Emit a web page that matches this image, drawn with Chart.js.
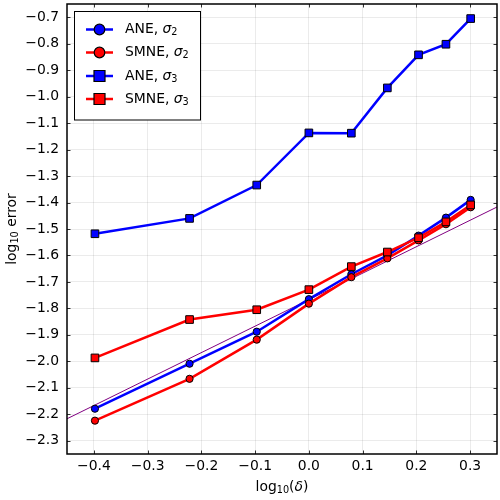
<!DOCTYPE html>
<html><head><meta charset="utf-8">
<script src="https://cdn.jsdelivr.net/npm/chart.js@4"></script>
<style>html,body{margin:0;padding:0;background:#fff}#w{width:500px;height:500px}</style>
</head><body><div id="w"><canvas id="c" width="500" height="500"></canvas></div>
<script>
// ---- data ----
const xVals  = [-0.398, -0.222, -0.097, 0.000, 0.079, 0.146, 0.204, 0.255, 0.301];
const aneS2  = [-2.179, -2.009, -1.888, -1.765, -1.671, -1.600, -1.525, -1.457, -1.390];
const smneS2 = [-2.224, -2.066, -1.918, -1.782, -1.682, -1.611, -1.543, -1.482, -1.418];
const aneS3  = [-1.518, -1.460, -1.334, -1.137, -1.138, -0.967, -0.842, -0.802, -0.705];
const smneS3 = [-1.987, -1.842, -1.805, -1.729, -1.642, -1.587, -1.533, -1.473, -1.409];
const refX   = [-0.45, 0.35];
const refY   = [-2.217, -1.417];
const xTicks = [-0.4, -0.3, -0.2, -0.1, 0.0, 0.1, 0.2, 0.3];
const yTicks = [-2.3, -2.2, -2.1, -2.0, -1.9, -1.8, -1.7, -1.6, -1.5, -1.4, -1.3, -1.2, -1.1, -1.0, -0.9, -0.8, -0.7];
const seriesNames = ['ANE', 'SMNE', 'ANE', 'SMNE'];
const seriesSubs  = ['2', '2', '3', '3'];

const FONT = "'DejaVu Sans', sans-serif";
const FS = 13.9, FSUB = 9.7;
const BLUE = '#0000ff', RED = '#ff0000', PURPLE = '#800080';
const fmt = v => Math.abs(v) < 1e-9 ? '0.0' : v.toFixed(1).replace('-', '\u2212');
const pts = (xs, ys) => xs.map((x, i) => ({x, y: ys[i]}));

const styles = [
  {c: BLUE, p: 'circle'}, {c: RED, p: 'circle'}, {c: BLUE, p: 'rect'}, {c: RED, p: 'rect'}
];
const seriesData = [aneS2, smneS2, aneS3, smneS3];

function mkSeries(i) {
  const s = styles[i];
  return {
    data: pts(xVals, seriesData[i]),
    borderColor: s.c, backgroundColor: s.c,
    borderWidth: 2.5,
    pointStyle: s.p,
    pointRadius: s.p === 'circle' ? 3.6 : 5.4,
    pointBorderColor: '#000', pointBorderWidth: 1,
    pointBackgroundColor: s.c,
    tension: 0, fill: false,
    order: 4 - i
  };
}

// target plot area in the 500x500 picture
const AREA = {left: 67, top: 4, right: 497, bottom: 454};

// draw a run of text parts: [text, kind] where kind: 'n' normal, 'i' italic, 's' subscript
function drawRun(ctx, parts, cx, cy, rot) {
  const fontOf = k => k === 's' ? `${FSUB}px ${FONT}` : (k === 'i' ? `italic ${FS}px ${FONT}` : `${FS}px ${FONT}`);
  let total = 0;
  parts.forEach(([t, k]) => { ctx.font = fontOf(k); total += ctx.measureText(t).width; });
  ctx.save();
  ctx.translate(cx, cy);
  if (rot) ctx.rotate(rot);
  ctx.fillStyle = '#000'; ctx.textBaseline = 'middle'; ctx.textAlign = 'left';
  let x = -total / 2;
  parts.forEach(([t, k]) => {
    ctx.font = fontOf(k);
    ctx.fillText(t, x, k === 's' ? 3 : 0);
    x += ctx.measureText(t).width;
  });
  ctx.restore();
}

const frameTicks = {
  id: 'frameTicks',
  afterDatasetsDraw(chart) {
    const {ctx, chartArea: a, scales} = chart;
    ctx.save();
    ctx.strokeStyle = '#000';
    ctx.lineWidth = 0.8;
    const L = 3.5;
    ctx.beginPath();
    xTicks.forEach(v => {
      const px = Math.round(scales.x.getPixelForValue(v)) + 0.5;
      ctx.moveTo(px, a.bottom); ctx.lineTo(px, a.bottom - L);
      ctx.moveTo(px, a.top); ctx.lineTo(px, a.top + L);
    });
    yTicks.forEach(v => {
      const py = Math.round(scales.y.getPixelForValue(v)) + 0.5;
      ctx.moveTo(a.left, py); ctx.lineTo(a.left + L, py);
      ctx.moveTo(a.right, py); ctx.lineTo(a.right - L, py);
    });
    ctx.stroke();
    ctx.lineWidth = 1.5;
    ctx.strokeRect(a.left, a.top, a.right - a.left, a.bottom - a.top);

    // axis titles (mathtext-like subscripts)
    drawRun(ctx, [['log', 'n'], ['10', 's'], ['(', 'n'], ['\u03b4', 'i'], [')', 'n']], (a.left + a.right) / 2, 487, 0);
    drawRun(ctx, [['log', 'n'], ['10', 's'], [' error', 'n']], 12, (a.top + a.bottom) / 2, -Math.PI / 2);

    // legend
    const bx = 74.5, by = 11.5, bw = 126, bh = 108.5;
    ctx.fillStyle = '#fff';
    ctx.fillRect(bx, by, bw, bh);
    ctx.lineWidth = 1;
    ctx.strokeStyle = '#000';
    ctx.strokeRect(bx, by, bw, bh);
    const rows = [29.5, 52.5, 76, 99];
    rows.forEach((ry, i) => {
      const s = styles[i];
      ctx.strokeStyle = s.c; ctx.lineWidth = 2.5;
      ctx.beginPath(); ctx.moveTo(86, ry); ctx.lineTo(113, ry); ctx.stroke();
      ctx.fillStyle = s.c; ctx.strokeStyle = '#000'; ctx.lineWidth = 1.2;
      ctx.beginPath();
      if (s.p === 'circle') { ctx.arc(99.5, ry, 5.3, 0, Math.PI * 2); }
      else { ctx.rect(99.5 - 5.5, ry - 5.5, 11, 11); }
      ctx.fill(); ctx.stroke();
      let tx = 125;
      ctx.fillStyle = '#000'; ctx.textBaseline = 'middle'; ctx.textAlign = 'left';
      ctx.font = `${FS}px ${FONT}`;
      const t = seriesNames[i] + ', ';
      ctx.fillText(t, tx, ry);
      tx += ctx.measureText(t).width;
      ctx.font = `italic ${FS}px ${FONT}`;
      ctx.fillText('\u03c3', tx, ry);
      tx += ctx.measureText('\u03c3').width;
      ctx.font = `${FSUB}px ${FONT}`;
      ctx.fillText(seriesSubs[i], tx, ry + 3);
    });
    ctx.restore();
  }
};

// force the exact plot area after layout
const fixArea = {
  id: 'fixArea',
  afterLayout(chart) {
    const a = chart.chartArea;
    a.left = AREA.left; a.top = AREA.top; a.right = AREA.right; a.bottom = AREA.bottom;
    a.width = a.right - a.left; a.height = a.bottom - a.top;
    const x = chart.scales.x, y = chart.scales.y;
    x.left = AREA.left; x.right = AREA.right; x.width = AREA.right - AREA.left;
    x.top = AREA.bottom; x.bottom = 500; x.height = 500 - AREA.bottom;
    y.top = AREA.top; y.bottom = AREA.bottom; y.height = AREA.bottom - AREA.top;
    y.left = 0; y.right = AREA.left; y.width = AREA.left;
    x.configure(); y.configure();
  }
};

new Chart(document.getElementById('c'), {
  type: 'line',
  data: {
    datasets: [
      mkSeries(0), mkSeries(1), mkSeries(2), mkSeries(3),
      {data: pts(refX, refY), borderColor: PURPLE, borderWidth: 1, pointRadius: 0, tension: 0, fill: false, order: 10}
    ]
  },
  options: {
    responsive: false, animation: false, devicePixelRatio: 1,
    layout: {padding: {left: 0, top: 4, right: 3, bottom: 0}},
    plugins: {legend: {display: false}, tooltip: {enabled: false}},
    scales: {
      x: {
        type: 'linear', min: -0.45, max: 0.35,
        afterBuildTicks: s => { s.ticks = xTicks.map(v => ({value: v})); },
        afterFit: s => { s.height = 46; s.paddingLeft = 0; s.paddingRight = 0; },
        ticks: {callback: v => fmt(v), font: {family: FONT, size: FS}, color: '#000', padding: 4, maxRotation: 0, autoSkip: false},
        grid: {color: 'rgba(0,0,0,0.1)', lineWidth: 0.8, drawTicks: false},
        border: {display: false},
        title: {display: false}
      },
      y: {
        type: 'linear', min: -2.35, max: -0.65,
        afterBuildTicks: s => { s.ticks = yTicks.map(v => ({value: v})); },
        afterFit: s => { s.width = 67; s.paddingTop = 0; s.paddingBottom = 0; },
        ticks: {callback: v => fmt(v), font: {family: FONT, size: FS}, color: '#000', padding: 8, autoSkip: false},
        grid: {color: 'rgba(0,0,0,0.1)', lineWidth: 0.8, drawTicks: false},
        border: {display: false},
        title: {display: false}
      }
    }
  },
  plugins: [fixArea, frameTicks]
});
</script>
</body></html>
